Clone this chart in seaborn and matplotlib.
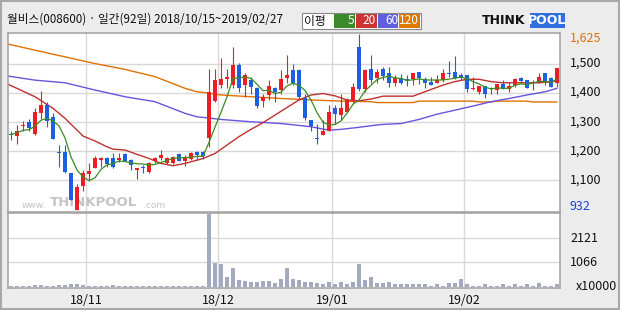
import numpy as np
import pandas as pd
import matplotlib
matplotlib.use("Agg")
import matplotlib.pyplot as plt
import seaborn as sns
from matplotlib.patches import Rectangle

# ---------------- data ----------------
opens = [1258, 1251, 1286, 1298, 1258, 1331, 1357, 1317, 1196, 1195,
         1123, 997, 1080, 1120, 1142, 1168, 1176, 1174, 1168, 1189,
         1168, 1136, 1145, 1126, 1165, 1176, 1157, 1157, 1189, 1165,
         1172, 1197, 1197, 1243, 1372, 1428, 1447, 1428, 1495, 1428,
         1443, 1415, 1372, 1392, 1415, 1409, 1451, 1478, 1478, 1380,
         1306, 1245, 1254, 1269, 1346, 1323, 1334, 1371, 1558, 1411,
         1481, 1449, 1481, 1466, 1432, 1449, 1446, 1446, 1470, 1446,
         1438, 1434, 1443, 1468, 1470, 1460, 1460, 1412, 1403, 1423,
         1411, 1409, 1429, 1412, 1426, 1449, 1443, 1432, 1437, 1468,
         1451, 1434]
closes = [1256, 1268, 1288, 1279, 1334, 1357, 1303, 1241, 1194, 1128,
          1031, 1077, 1123, 1132, 1174, 1176, 1155, 1145, 1176, 1165,
          1151, 1142, 1140, 1160, 1174, 1186, 1174, 1180, 1165, 1180,
          1194, 1186, 1182, 1403, 1443, 1447, 1455, 1495, 1415, 1460,
          1420, 1355, 1384, 1423, 1401, 1447, 1460, 1432, 1386, 1312,
          1285, 1242, 1268, 1334, 1325, 1346, 1375, 1420, 1411, 1478,
          1443, 1472, 1458, 1432, 1449, 1432, 1441, 1466, 1449, 1432,
          1428, 1443, 1466, 1463, 1449, 1449, 1412, 1417, 1423, 1395,
          1417, 1429, 1412, 1423, 1447, 1440, 1417, 1438, 1455, 1440,
          1420, 1486]
highs = [1270, 1289, 1303, 1309, 1346, 1405, 1369, 1329, 1220, 1220,
         1123, 1086, 1134, 1159, 1183, 1180, 1180, 1194, 1194, 1191,
         1172, 1142, 1151, 1163, 1180, 1203, 1180, 1183, 1194, 1186,
         1197, 1200, 1200, 1481, 1481, 1520, 1481, 1558, 1503, 1466,
         1455, 1418, 1397, 1443, 1420, 1478, 1529, 1498, 1483, 1397,
         1306, 1291, 1306, 1357, 1357, 1395, 1380, 1434, 1601, 1483,
         1529, 1480, 1489, 1489, 1460, 1464, 1460, 1468, 1472, 1455,
         1453, 1460, 1483, 1508, 1526, 1466, 1460, 1455, 1423, 1423,
         1420, 1429, 1443, 1437, 1449, 1455, 1443, 1443, 1468, 1468,
         1455, 1486]
lows = [1237, 1222, 1268, 1268, 1254, 1311, 1283, 1241, 1145, 1123,
        1031, 997, 1062, 1097, 1140, 1145, 1145, 1142, 1163, 1165,
        1136, 1105, 1123, 1123, 1157, 1168, 1154, 1154, 1165, 1149,
        1168, 1168, 1171, 1212, 1367, 1415, 1415, 1415, 1403, 1386,
        1397, 1346, 1352, 1375, 1369, 1397, 1432, 1426, 1375, 1306,
        1269, 1222, 1254, 1269, 1294, 1306, 1329, 1363, 1407, 1403,
        1432, 1432, 1443, 1420, 1423, 1430, 1423, 1428, 1430, 1415,
        1426, 1432, 1438, 1455, 1446, 1443, 1403, 1409, 1397, 1383,
        1397, 1397, 1412, 1403, 1420, 1434, 1417, 1409, 1432, 1428,
        1420, 1420]
volumes = [50, 50, 50, 50, 100, 100, 50, 50, 100, 100,
           120, 120, 90, 50, 50, 50, 50, 90, 50, 50,
           50, 50, 50, 50, 50, 50, 50, 50, 50, 50,
           50, 50, 50, 3130, 1025, 985, 435, 815, 310, 265,
           195, 225, 265, 240, 180, 350, 815, 350, 310, 225,
           225, 180, 120, 225, 120, 225, 120, 225, 985, 310,
           435, 180, 180, 225, 120, 120, 120, 120, 120, 120,
           60, 120, 60, 180, 180, 350, 120, 60, 60, 120,
           60, 60, 120, 60, 120, 60, 120, 60, 180, 60,
           60, 120]

ma20_x = [-0.5, 4, 7, 9, 12, 14, 16, 17, 19, 21, 23, 25, 27, 29, 31, 32, 34, 36,
          38, 40, 42, 44, 46, 48, 50, 52, 54, 56, 58, 60, 61, 62, 66, 67, 70,
          72, 74, 76, 78, 80, 82, 86, 88, 90, 91]
ma20_y = [1429, 1386, 1346, 1312, 1251, 1234, 1214, 1206, 1203, 1188, 1174, 1157,
          1149, 1157, 1168, 1174, 1191, 1220, 1249, 1274, 1297, 1323, 1349, 1375,
          1392, 1397, 1389, 1375, 1372, 1378, 1383, 1388, 1388, 1388, 1411, 1426,
          1438, 1446, 1446, 1438, 1434, 1434, 1434, 1438, 1441]
ma60_x = [-0.5, 4, 9, 14, 19, 24, 29, 31, 32, 35, 40, 45, 50, 53, 55, 58, 61,
          62, 65, 68, 71, 74, 77, 80, 83, 86, 89, 91]
ma60_y = [1457, 1443, 1434, 1409, 1386, 1369, 1329, 1317, 1315, 1308, 1300, 1294,
          1283, 1271, 1274, 1281, 1289, 1291, 1294, 1308, 1326, 1340, 1354, 1369,
          1380, 1392, 1403, 1415]
ma120_x = [-0.5, 4, 9, 14, 19, 24, 29, 31, 32, 35, 40, 45, 50, 55, 60, 61, 67,
           68, 77, 78, 80, 81, 86, 87, 91]
ma120_y = [1567, 1546, 1523, 1500, 1480, 1455, 1415, 1403, 1401, 1392, 1386, 1380,
           1375, 1371, 1369, 1366, 1366, 1371, 1371, 1368, 1368, 1371, 1371, 1368,
           1368]

price_ticks = [1500, 1400, 1300, 1200, 1100]
price_labels = ["1,500", "1,400", "1,300", "1,200", "1,100"]
vol_ticks = [2121, 1066]
month_starts = [13, 35, 54, 76]
month_labels = ["18/11", "18/12", "19/01", "19/02"]
title = "월비스(008600) · 일간(92일) 2018/10/15~2019/02/27"

# ---------------- style ----------------
sns.set_theme(style="white")
plt.rcParams['font.family'] = ['Noto Sans CJK KR', 'DejaVu Sans']

W, H = 620, 310
BG = '#ECECEC'
UP = '#EE1C24'
DN = '#1C5FE0'
GRID = '#D9D9D9'
FRAME = '#A0A0A0'

fig = plt.figure(figsize=(6.2, 3.1), dpi=100, facecolor=BG)


def fx(px):
    return px / W


def fy(py):
    return 1 - py / H


ax1 = fig.add_axes([fx(8), fy(212), 552 / W, 179 / H])
ax2 = fig.add_axes([fx(8), fy(288), 552 / W, 75 / H])

df = pd.DataFrame({'i': np.arange(len(closes)), 'open': opens, 'close': closes,
                   'high': highs, 'low': lows, 'vol': volumes})
df['ma5'] = df['close'].rolling(5, min_periods=1).mean()

# ---- panes ----
for ax in (ax1, ax2):
    ax.set_facecolor('white')
    for s in ax.spines.values():
        s.set_color(FRAME)
        s.set_linewidth(1.1)
    for m in month_starts:
        ax.axvline(m - 0.5, color=GRID, lw=1.0, zorder=0)
    ax.set_xlim(-0.5, len(closes) - 0.5)

for t in price_ticks:
    ax1.axhline(t, color=GRID, lw=1.0, zorder=0)
ax1.set_ylim(990, 1605)

# watermark
wm = dict(transform=fig.transFigure, color='#C4C4C4', va='center', ha='left',
          zorder=0.5, family='DejaVu Sans')
ax1.text(fx(22), fy(205), "www.", fontsize=6.5, **wm)
ax1.text(fx(50), fy(203), "THINKPOOL", fontsize=9.5, fontweight='bold', **wm)
ax1.text(fx(143), fy(205), ".com", fontsize=6.5, **wm)

colors = [UP if c >= o else DN for o, c in zip(df['open'], df['close'])]
ax1.vlines(df['i'], df['low'], df['high'], colors=colors, lw=0.8, zorder=3)
body_h = np.maximum((df['close'] - df['open']).abs(), 3)
body_b = np.minimum(df['open'], df['close'])
ax1.bar(df['i'], body_h, bottom=body_b, width=0.72, color=colors, zorder=3, linewidth=0)

sns.lineplot(x=ma120_x, y=ma120_y, ax=ax1, color='#E07000', lw=1.0, zorder=2)
sns.lineplot(x=ma60_x, y=ma60_y, ax=ax1, color='#6655DD', lw=1.0, zorder=2)
sns.lineplot(x=ma20_x, y=ma20_y, ax=ax1, color='#C03030', lw=1.0, zorder=2)
sns.lineplot(data=df, x='i', y='ma5', ax=ax1, color='#3C8C1E', lw=0.9, zorder=4)

ax1.set_xticks([]); ax1.set_yticks([])
ax1.set_xlabel(''); ax1.set_ylabel('')
ax1.set_xlim(-0.5, len(closes) - 0.5)

# ---- volume pane ----
for t in vol_ticks:
    ax2.axhline(t, color=GRID, lw=1.0, zorder=0)
sns.barplot(data=df, x='i', y='vol', ax=ax2, color='#A3AAC0', saturation=1,
            width=0.78, errorbar=None, native_scale=True, zorder=2, linewidth=0)
ax2.set_ylim(-45, 3190)
ax2.set_xlim(-0.5, len(closes) - 0.5)
ax2.set_xticks([]); ax2.set_yticks([])
ax2.set_xlabel(''); ax2.set_ylabel('')

# ---- right axis labels ----
fs = 9
fig.text(fx(570), fy(38), "1,625", color='#E07000', va='center', fontsize=fs)
for t, lab in zip(price_ticks, price_labels):
    ypx = 63.5 + (1500 - t) * 0.291
    fig.text(fx(570), fy(ypx), lab, color='#111111', va='center', fontsize=fs)
fig.text(fx(570), fy(207), "932", color='#1C3FE0', va='center', fontsize=fs)
fig.text(fx(570), fy(238), "2121", color='#111111', va='center', fontsize=fs)
fig.text(fx(570), fy(262), "1066", color='#111111', va='center', fontsize=fs)
fig.text(fx(576), fy(286), "x10000", color='#111111', va='center', fontsize=fs)

# ---- bottom date labels ----
for m, lab in zip(month_starts, month_labels):
    xpx = 8 + 6 * m
    fig.text(fx(xpx), fy(300), lab, ha='center', va='center', fontsize=fs, color='#111111')

# ---- header ----
fig.text(fx(7), fy(19), title, ha='left', va='center', fontsize=8.4, color='#111111')

fig.add_artist(Rectangle((fx(302), fy(29)), 119 / W, 16 / H, transform=fig.transFigure,
                         facecolor='white', edgecolor='#888888', lw=0.8))
fig.text(fx(304), fy(21), "이평", ha='left', va='center', fontsize=8.5, color='#111111')
legend_items = [("5", '#3A8A2A', 334), ("20", '#CC3333', 356), ("60", '#6060DD', 378), ("120", '#E07800', 399)]
for lab, col, x0 in legend_items:
    fig.add_artist(Rectangle((fx(x0), fy(28)), 20.5 / W, 14 / H, transform=fig.transFigure,
                             facecolor=col, edgecolor='none'))
    fig.text(fx(x0 + 20), fy(21), lab, ha='right', va='center', fontsize=8.5, color='white')

# logo
fig.text(fx(482), fy(21), "THINK", ha='left', va='center', fontsize=9,
         fontweight='bold', color='#111111', family='DejaVu Sans')
fig.add_artist(Rectangle((fx(530), fy(28)), 35 / W, 15 / H, transform=fig.transFigure,
                         facecolor='#2F6FE0', edgecolor='none'))
fig.text(fx(547.5), fy(21), "POOL", ha='center', va='center', fontsize=9,
         fontweight='bold', color='white', family='DejaVu Sans')

# outer border
fig.add_artist(Rectangle((0.001, 0.002), 0.997, 0.995, transform=fig.transFigure,
                         facecolor='none', edgecolor='#A8A8A8', lw=1.5))

fig.savefig("out.png", dpi=100, facecolor=BG)
